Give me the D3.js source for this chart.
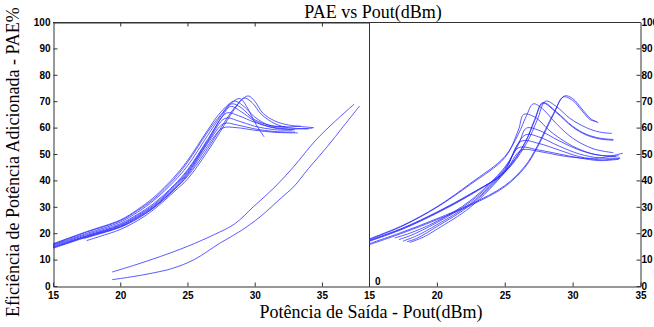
<!DOCTYPE html>
<html><head><meta charset="utf-8">
<script src="https://cdn.jsdelivr.net/npm/d3@7"></script>
<style>body{margin:0;background:#fff}svg{display:block}</style>
</head><body>
<svg id="c" width="654" height="327"></svg>
<script>
const titleText = "PAE vs Pout(dBm)";
const xLabel = "Potência de Saída - Pout(dBm)";
const yLabel = "Eficiência de Potência Adicionada - PAE%";
const xTicksLeft = [15, 20, 25, 30, 35];
const xTicksRight = [15, 20, 25, 30, 35];
const yTicks = [0, 10, 20, 30, 40, 50, 60, 70, 80, 90, 100];

// Left panel: upper cluster of PAE curves [Pout, PAE]
const leftCurves = [
 [[17.3,18.0],[18.5,19.8],[20,22.2],[21.3,25.5],[22.5,29.8],[24,36.5],[25,41.5],[26.5,52],[27.5,60],[28.5,67.5],[29.5,72.0],[30,70],[30.6,65.5],[31.5,62.5],[32.5,61],[34.4,60]],
 [[17.5,17.2],[18.5,18.8],[20,21.4],[21.3,24.8],[22.5,29],[24,35.7],[25,40.5],[26.5,51],[27.5,59],[28.5,67],[29.2,71.2],[29.8,69.5],[30.5,65],[31.5,61.5],[32.5,60],[34.0,59.5]],
 [[15,15.6],[17.5,19.9],[20,24.2],[21.3,28],[22.5,32.4],[24,39.6],[25,45.5],[26.5,57],[27.5,64.5],[28.3,69.5],[28.9,71],[29.4,68],[30,62],[30.7,56.5]],
 [[15,16.0],[17.5,20.6],[20,25],[21.3,29],[22.5,33.6],[24,41.2],[25,47.5],[26.5,59],[27.5,66],[28.5,70],[29.2,68],[30,64],[31,61],[32,60.2],[33.4,60.6]],
 [[15,15.3],[17.5,19.5],[20,23.6],[21.3,27.2],[22.5,31.3],[24,38.2],[25,44],[26.5,55.5],[27.5,63.5],[28.2,68],[29,66],[30,62.5],[31,60.5],[32.5,59.5],[34.3,59.8]],
 [[15,15.0],[17.5,19.1],[20,23.2],[21.3,26.8],[22.5,30.8],[24,37.8],[25,43.5],[26.5,55],[27.9,65.5],[28.8,64.5],[30,62],[31.5,59.8],[33,59.2]],
 [[15,14.7],[17.5,18.9],[20,22.9],[21.3,26.4],[22.5,30.4],[24,37.3],[25,43],[26.5,54.5],[27.8,63.5],[28.8,62.5],[30,60.5],[31.5,59.2],[32.8,59]],
 [[15,14.5],[17.5,18.7],[20,22.6],[21.3,26.1],[22.5,30],[24,36.8],[25,42.5],[26.5,54],[27.7,61.5],[28.7,61],[30,59.5],[31.5,58.5],[33,58.3]],
 [[15,14.3],[17.5,18.5],[20,22.4],[21.3,25.8],[22.5,29.6],[24,36.4],[25,42],[26.5,53],[27.6,59.8],[28.6,60],[30,59],[31.5,58.2],[33.2,58]],
 [[15,15.8],[17.5,20.4],[20,24.7],[21.3,28.6],[22.5,33],[24,40.5],[25,46.8],[26.5,58.3],[27.5,65],[28.3,69],[29,67.5],[30,63],[31.2,60.8],[32.3,60.3]]
];
// Left panel: two lower curves
const leftLow = [
 [[19.4,5.3],[21,7.8],[23,11.2],[25,15],[27,19.5],[28.5,23.5],[29.9,30],[31.5,37.5],[32.9,45.2],[34.5,55],[36,62.5],[37.4,68.9]],
 [[19.4,2.4],[21,3.6],[22.5,5],[23.9,6.7],[25.5,10],[27.4,16.2],[29,21],[30.4,26.2],[32,33.5],[32.9,37.6],[34,44.5],[35.4,52.8],[36.6,60.5],[37.8,68.2]]
];
// Right panel curves
const rightCurves = [
 [[15,16.0],[17.5,20.5],[20,25.5],[22.5,31],[25,38],[26.5,45.5],[27.4,53],[28.6,65.5],[29.4,72],[30,71],[30.7,67],[31.3,63.5],[31.9,61.8]],
 [[15,15.6],[17.5,20.1],[20,25.1],[22.5,30.6],[25,37.6],[26.5,45],[27.4,52.5],[28.6,65],[29.3,71.6],[30,70.3],[30.7,66.3],[31.3,63],[31.8,62.3]],
 [[15,17.3],[17.5,22],[20,28],[22.5,35],[25,43],[26.6,54],[27.4,63],[28,70],[28.8,68],[29.8,63.5],[31,60],[32,58.3],[32.9,57.8]],
 [[15,17.1],[17.5,21.8],[20,27.8],[22.5,34.8],[25,43.5],[26.5,54.5],[27.2,63],[27.8,69.5],[28.8,66],[30,60.5],[31,57.5],[32,56],[33,55.5]],
 [[15,16.9],[17.5,21.6],[20,27.6],[22.5,34.6],[25,43.2],[26.5,54.2],[27.2,62.6],[27.8,69.2],[28.8,65.7],[30,60.2],[31,57.2],[32,55.7],[33,55.2]],
 [[15,17.8],[17.5,23],[20,30],[22.5,39],[25,49],[26,57.5],[26.6,64.5],[27.1,69],[27.8,67],[28.8,61.5],[30,56],[31.5,52],[33,50.5]],
 [[15,17.6],[17.5,22.8],[20,29.8],[22.5,38.6],[25,48.6],[26,59],[26.4,65],[27.2,64],[28.5,58],[30,53],[31.5,50],[33.2,49]],
 [[16.9,18.2],[18,20],[20,24.5],[22.5,32.5],[25,45],[26,53.5],[26.6,59.8],[27.5,59],[29,55],[30.5,51.5],[32,49.5],[33.4,49.3]],
 [[17.2,17.6],[18,19],[20,24],[22.5,32],[25,44.5],[26.5,57.2],[27.5,56.5],[29,53],[30.5,50],[32,48.5],[33.5,48.5]],
 [[17.5,17.0],[18.5,19],[20,23.2],[22.5,31.3],[25,44],[26.2,54.8],[27.5,54],[29,51.5],[30.5,49],[32,47.8],[33.5,48.3]],
 [[17.8,16.8],[18.5,18],[20,22.5],[22.5,30.8],[25,43.5],[26,52.3],[27.5,51.5],[29,50],[30.5,48.5],[32,47.5],[33.4,48]],
 [[18,16.5],[19,18.5],[20,21.5],[22.5,30],[25,43],[26.2,51.4],[27.5,51],[29,49.5],[30.5,48.5],[32,48.5],[33.7,50.3]]
];

const svg = d3.select("#c");
const yTop = 22, yBottom = 286;
const xL = d3.scaleLinear().domain([15, 38.5]).range([53, 369]);
const xR = d3.scaleLinear().domain([15, 35]).range([369, 640.5]);
const y = d3.scaleLinear().domain([0, 100]).range([yBottom, yTop]);

const axisColor = "#333";
const tickFont = "bold 10px 'Liberation Sans', Arial, sans-serif";

svg.append("line").attr("x1", 53).attr("x2", 640.5).attr("y1", yTop + 0.5).attr("y2", yTop + 0.5)
  .attr("stroke", axisColor);

const gyL = svg.append("g").attr("transform", `translate(53.5,0)`)
  .call(d3.axisLeft(y).tickValues(yTicks).tickSizeInner(-4).tickSizeOuter(0).tickPadding(3));
const gxL = svg.append("g").attr("transform", `translate(0,${yBottom + 0.5})`)
  .call(d3.axisBottom(xL).tickValues(xTicksLeft).tickSizeInner(-4).tickSizeOuter(0).tickPadding(5));
svg.append("g").attr("transform", `translate(0,${yTop + 0.5})`)
  .call(d3.axisTop(xL).tickValues(xTicksLeft.slice(1)).tickSizeInner(-4).tickSizeOuter(0).tickFormat(""));
const gxR = svg.append("g").attr("transform", `translate(0,${yBottom + 0.5})`)
  .call(d3.axisBottom(xR).tickValues(xTicksRight).tickSizeInner(-4).tickSizeOuter(0).tickPadding(5));
const gyR = svg.append("g").attr("transform", `translate(640.5,0)`)
  .call(d3.axisRight(y).tickValues(yTicks).tickSizeInner(-4).tickSizeOuter(0).tickPadding(1));
svg.append("line").attr("x1", 369.5).attr("x2", 369.5).attr("y1", yTop).attr("y2", yBottom + 1)
  .attr("stroke", axisColor);

svg.selectAll(".domain").attr("stroke", axisColor);
svg.selectAll(".tick line").attr("stroke", axisColor);
svg.selectAll(".tick text").style("font", tickFont).attr("fill", "#000");

svg.append("text").attr("x", 375).attr("y", 285).text("0")
  .style("font", tickFont).attr("fill", "#000");

const lineL = d3.line().x(d => xL(d[0])).y(d => y(d[1])).curve(d3.curveCatmullRom.alpha(0.5));
const lineR = d3.line().x(d => xR(d[0])).y(d => y(d[1])).curve(d3.curveCatmullRom.alpha(0.5));

const lines = svg.append("g").attr("fill", "none").attr("stroke", "#2424ff").attr("stroke-width", 0.75);
lines.selectAll(".l").data(leftCurves.concat(leftLow)).join("path").attr("class", "l").attr("d", lineL);
lines.selectAll(".r").data(rightCurves).join("path").attr("class", "r").attr("d", lineR);

const serif = "'Liberation Serif', 'Times New Roman', serif";
svg.append("text").attr("x", 373).attr("y", 18).attr("text-anchor", "middle")
  .style("font-family", serif).style("font-size", "18px").text(titleText);
svg.append("text").attr("x", 371).attr("y", 318).attr("text-anchor", "middle")
  .style("font-family", serif).style("font-size", "18px").text(xLabel);
svg.append("text").attr("transform", "translate(19,162) rotate(-90)").attr("text-anchor", "middle")
  .style("font-family", serif).style("font-size", "18px").text(yLabel);
</script>
</body></html>
